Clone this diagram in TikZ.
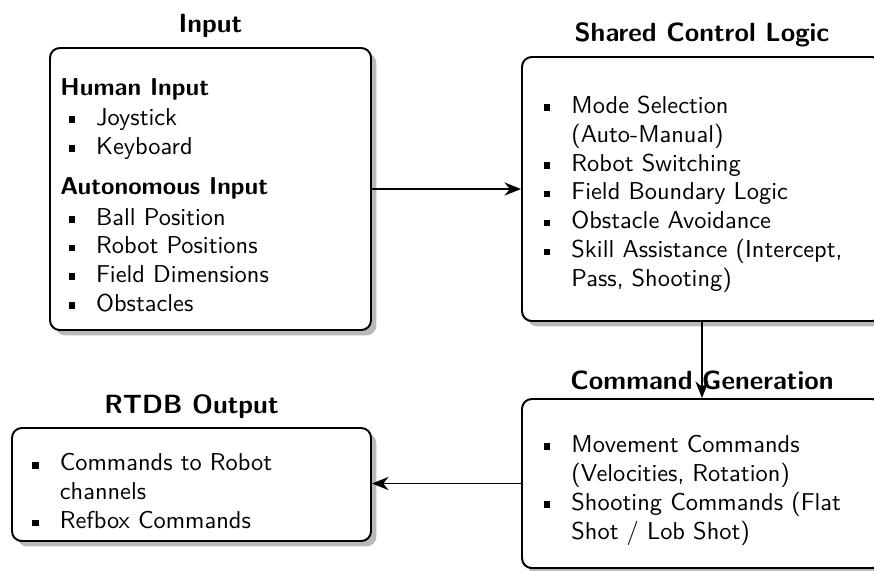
\documentclass[tikz,border=0pt]{standalone}
\usetikzlibrary{shadows,fit,arrows.meta}
\renewcommand{\familydefault}{\sfdefault}
\newcommand\bul{\hspace*{3.3pt}\makebox[11.3pt][l]{\rule[0.9pt]{2.7pt}{2.7pt}}}
\newcommand\cnt{\hspace*{14.6pt}}
\begin{document}
\begin{tikzpicture}[x=0.4098pt,y=-0.4098pt,
  box/.style={draw=black,thick,rounded corners=4pt,fill=white,inner sep=0pt,
    drop shadow={shadow xshift=2.2pt,shadow yshift=-2.2pt,opacity=0.5,fill=black!55}},
  txt/.style={anchor=base west,inner sep=0pt,font=\sffamily\fontsize{10}{12}\selectfont},
  hdr/.style={txt,font=\sffamily\bfseries\fontsize{10}{12}\selectfont},
  ttl/.style={anchor=base,inner sep=0pt,font=\sffamily\bfseries\fontsize{10.8}{13}\selectfont},
  arr/.style={semithick,-{Stealth[length=6.8pt,width=5.4pt,inset=2.2pt]}}]
\useasboundingbox (0,0) rectangle (874,570);
% boxes
\node[box,fit={(50,48)(371,330)}] (input) {};
\node[box,fit={(522,57)(882,321)}] (scl) {};
\node[box,fit={(522,399)(882,568)}] (cg) {};
\node[box,fit={(12,428)(371,541)}] (rtdb) {};
% titles
\node[ttl] (tin) at (210.5,32) {Input};
\node[ttl] (tscl) at (702,41) {Shared Control Logic};
\node[ttl] (tcg) at (702,389) {Command Generation};
\node[ttl] (trt) at (191.5,413) {RTDB Output};
% input content
\node[hdr] (i1) at (60,95) {Human Input};
\node[txt] (i2) at (60,125) {\bul Joystick};
\node[txt] (i3) at (60,154) {\bul Keyboard};
\node[hdr] (i4) at (60,194) {Autonomous Input};
\node[txt] (i5) at (60,225) {\bul Ball Position};
\node[txt] (i6) at (60,253.5) {\bul Robot Positions};
\node[txt] (i7) at (60,282) {\bul Field Dimensions};
\node[txt] (i8) at (60,311) {\bul Obstacles};
% shared control logic content
\node[txt] (s1) at (535.3,113) {\bul Mode Selection};
\node[txt] (s2) at (535.3,142) {\cnt(Auto-Manual)};
\node[txt] (s3) at (535.3,171) {\bul Robot Switching};
\node[txt] (s4) at (535.3,199.5) {\bul Field Boundary Logic};
\node[txt] (s5) at (535.3,228.5) {\bul Obstacle Avoidance};
\node[txt] (s6) at (535.3,257.5) {\bul Skill Assistance (Intercept,};
\node[txt] (s7) at (535.3,286.5) {\cnt Pass, Shooting)};
% command generation content
\node[txt] (c1) at (535.3,452) {\bul Movement Commands};
\node[txt] (c2) at (535.3,481) {\cnt(Velocities, Rotation)};
\node[txt] (c3) at (535.3,510) {\bul Shooting Commands (Flat};
\node[txt] (c4) at (535.3,539) {\cnt Shot / Lob Shot)};
% rtdb content
\node[txt] (r1) at (23.7,470.7) {\bul Commands to Robot};
\node[txt] (r2) at (23.7,499.5) {\cnt channels};
\node[txt] (r3) at (23.7,528.3) {\bul Refbox Commands};
% connectors
\draw[arr] (input.east) -- (scl.west);
\draw[arr] (scl.south) -- (cg.north);
\draw[arr] (cg.west) -- (cg.west -| rtdb.east);
\end{tikzpicture}
\end{document}
